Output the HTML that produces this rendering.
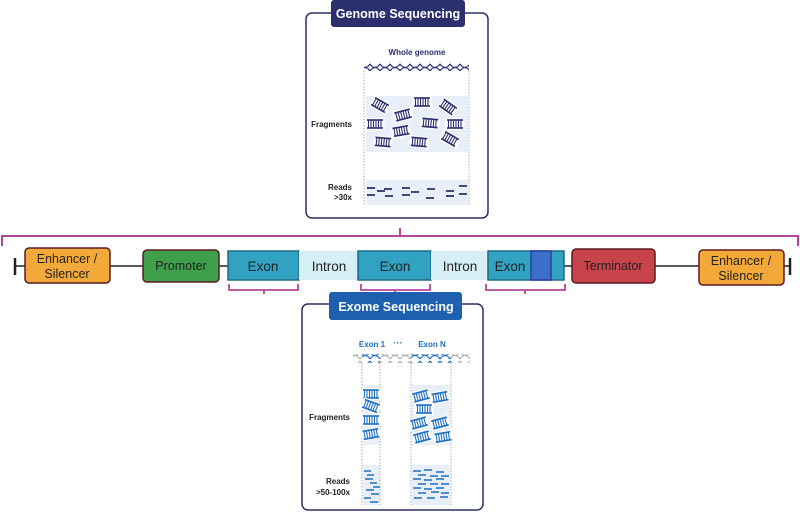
<!DOCTYPE html>
<html><head><meta charset="utf-8"><style>
html,body{margin:0;padding:0;background:#fff;}
svg{display:block;font-family:"Liberation Sans",sans-serif;}
</style></head><body>
<svg width="800" height="513" viewBox="0 0 800 513" xmlns="http://www.w3.org/2000/svg">
<defs>
<g id="ld">
<rect x="-8" y="-4.5" width="16" height="9" fill="#fff" stroke="#fff" stroke-width="3"/>
<line x1="-8" y1="-4" x2="8" y2="-4" stroke="currentColor" stroke-width="1.6"/>
<line x1="-8" y1="4" x2="8" y2="4" stroke="currentColor" stroke-width="1.6"/>
<path d="M-6.5-4v8M-4-4v8M-1.5-4v8M1-4v8M3.5-4v8M6-4v8" stroke="currentColor" stroke-width="1.1"/>
</g>
<pattern id="hxN" width="10" height="9" patternUnits="userSpaceOnUse">
<path d="M0 1 Q5 8 10 1 M0 8 Q5 1 10 8" fill="none" stroke="#2b2f6e" stroke-width="1.2"/>
<path d="M2.5 3v3M7.5 3v3" stroke="#7a7fb0" stroke-width="0.7"/>
</pattern>
<pattern id="hxB" width="10" height="9" patternUnits="userSpaceOnUse">
<path d="M0 1 Q5 8 10 1 M0 8 Q5 1 10 8" fill="none" stroke="#1e6fc0" stroke-width="1.2"/>
<path d="M2.5 3v3M7.5 3v3" stroke="#7fb0e0" stroke-width="0.7"/>
</pattern>
<pattern id="hxG" width="10" height="9" patternUnits="userSpaceOnUse">
<path d="M0 1 Q5 8 10 1 M0 8 Q5 1 10 8" fill="none" stroke="#aaa" stroke-width="1.1"/>
<path d="M2.5 3v3M7.5 3v3" stroke="#ccc" stroke-width="0.7"/>
</pattern>
</defs>

<!-- Genome box -->
<rect x="306" y="13" width="182" height="205" rx="6" fill="#fff" stroke="#2b3060" stroke-width="1.5"/>
<rect x="331" y="0" width="134" height="27" rx="3" fill="#2b2f6e"/>
<text x="398" y="18" text-anchor="middle" font-size="12.5" font-weight="bold" fill="#fff">Genome Sequencing</text>
<text x="417" y="55" text-anchor="middle" font-size="8" font-weight="bold" fill="#2b2f6e">Whole genome</text>
<rect x="364" y="62" width="105" height="9" fill="url(#hxN)"/>
<rect x="366" y="96" width="102" height="56" fill="#e8eff8"/>
<rect x="366" y="180" width="102" height="25" fill="#e8eff8"/>
<line x1="364" y1="71" x2="364" y2="205" stroke="#aaa" stroke-dasharray="1.5,1.5"/>
<line x1="469" y1="71" x2="469" y2="205" stroke="#aaa" stroke-dasharray="1.5,1.5"/>
<g color="#2b2f6e">
<use href="#ld" transform="translate(380,105) rotate(30)"/>
<use href="#ld" transform="translate(422,102)"/>
<use href="#ld" transform="translate(448,107) rotate(35)"/>
<use href="#ld" transform="translate(375,124)"/>
<use href="#ld" transform="translate(403,115) rotate(-15)"/>
<use href="#ld" transform="translate(430,123) rotate(5)"/>
<use href="#ld" transform="translate(455,124)"/>
<use href="#ld" transform="translate(401,131) rotate(-10)"/>
<use href="#ld" transform="translate(383,142) rotate(5)"/>
<use href="#ld" transform="translate(419,142) rotate(5)"/>
<use href="#ld" transform="translate(450,139) rotate(30)"/>
</g>
<text x="352" y="127" text-anchor="end" font-size="8" font-weight="bold" fill="#222">Fragments</text>
<text x="352" y="190" text-anchor="end" font-size="8" font-weight="bold" fill="#222">Reads</text>
<text x="352" y="200" text-anchor="end" font-size="8" font-weight="bold" fill="#222">&gt;30x</text>
<path d="M367 188h8M377 191h8M384 189h8M402 188h8M411 192h8M427 189h8M446 191h8M459 186h8M367 195h8M385 196h8M402 195h8M426 198h8M446 196h8M459 194h8" stroke="#2b2f6e" stroke-width="1.8"/>

<!-- top bracket -->
<path d="M2 246 V236 H798 V246 M400 236 V228" fill="none" stroke="#b0479c" stroke-width="2"/>

<!-- gene row -->
<line x1="15" y1="266" x2="790" y2="266" stroke="#222" stroke-width="1.6"/>
<line x1="15" y1="258" x2="15" y2="275" stroke="#222" stroke-width="2.5"/>
<line x1="790" y1="258" x2="790" y2="275" stroke="#222" stroke-width="2.5"/>
<rect x="25" y="248" width="85" height="35" rx="4" fill="#f2a93a" stroke="#5a1a20" stroke-width="1.5"/>
<text x="67" y="263" text-anchor="middle" font-size="12.5" fill="#222">Enhancer /</text>
<text x="67" y="278" text-anchor="middle" font-size="12.5" fill="#222">Silencer</text>
<rect x="143" y="250" width="76" height="32" rx="4" fill="#3ea04a" stroke="#5a1a20" stroke-width="1.5"/>
<text x="181" y="270" text-anchor="middle" font-size="12.5" fill="#222">Promoter</text>
<rect x="228" y="251" width="71" height="29" fill="#31a2c2" stroke="#1c6a80" stroke-width="1.5"/>
<text x="263" y="271" text-anchor="middle" font-size="13.5" fill="#222">Exon</text>
<rect x="299" y="251" width="59" height="29" fill="#d6eff5"/>
<text x="329" y="271" text-anchor="middle" font-size="13.5" fill="#222">Intron</text>
<rect x="358" y="251" width="73" height="29" fill="#31a2c2" stroke="#1c6a80" stroke-width="1.5"/>
<text x="395" y="271" text-anchor="middle" font-size="13.5" fill="#222">Exon</text>
<rect x="431" y="251" width="57" height="29" fill="#d6eff5"/>
<text x="460" y="271" text-anchor="middle" font-size="13.5" fill="#222">Intron</text>
<rect x="488" y="251" width="76" height="29" fill="#31a2c2" stroke="#1c6a80" stroke-width="1.5"/>
<rect x="531" y="251" width="20" height="29" fill="#3b6fc9" stroke="#2a3fa0" stroke-width="1.5"/>
<text x="510" y="271" text-anchor="middle" font-size="13.5" fill="#222">Exon</text>
<rect x="572" y="249" width="83" height="34" rx="4" fill="#c9434b" stroke="#5a1a20" stroke-width="1.5"/>
<text x="613" y="270" text-anchor="middle" font-size="12.5" fill="#222">Terminator</text>
<rect x="699" y="250" width="85" height="35" rx="4" fill="#f2a93a" stroke="#5a1a20" stroke-width="1.5"/>
<text x="741" y="265" text-anchor="middle" font-size="12.5" fill="#222">Enhancer /</text>
<text x="741" y="280" text-anchor="middle" font-size="12.5" fill="#222">Silencer</text>

<!-- lower brackets -->
<path d="M229 284 V290 H298 V284 M264 290 V294" fill="none" stroke="#b0479c" stroke-width="1.8"/>
<path d="M361 284 V290 H430 V284 M395 290 V294" fill="none" stroke="#b0479c" stroke-width="1.8"/>
<path d="M486 284 V290 H565 V284 M525 290 V294" fill="none" stroke="#b0479c" stroke-width="1.8"/>

<!-- Exome box -->
<rect x="302" y="304" width="181" height="206" rx="6" fill="#fff" stroke="#2b3060" stroke-width="1.5"/>
<rect x="329" y="292" width="133" height="28" rx="3" fill="#1e60af"/>
<text x="396" y="311" text-anchor="middle" font-size="12.5" font-weight="bold" fill="#fff">Exome Sequencing</text>
<text x="372" y="347" text-anchor="middle" font-size="8" font-weight="bold" fill="#1e6fc0">Exon 1</text>
<text x="398" y="346" text-anchor="middle" font-size="9" font-weight="bold" fill="#1e6fc0">···</text>
<text x="432" y="347" text-anchor="middle" font-size="8" font-weight="bold" fill="#1e6fc0">Exon N</text>
<rect x="353" y="354" width="117" height="9" fill="url(#hxG)"/>
<rect x="362" y="354" width="18" height="9" fill="#fff"/>
<rect x="362" y="354" width="18" height="9" fill="url(#hxB)"/>
<rect x="411" y="354" width="40" height="9" fill="#fff"/>
<rect x="411" y="354" width="40" height="9" fill="url(#hxB)"/>
<rect x="363" y="385" width="17" height="60" fill="#e8eff8"/>
<rect x="412" y="385" width="38" height="60" fill="#e8eff8"/>
<rect x="363" y="465" width="17" height="40" fill="#e8eff8"/>
<rect x="412" y="465" width="38" height="40" fill="#e8eff8"/>
<path d="M362 363V505M380 363V505M411 363V505M451 363V505" stroke="#aaa" stroke-dasharray="1.5,1.5"/>
<g color="#1e6fc0">
<use href="#ld" transform="translate(371,394)"/>
<use href="#ld" transform="translate(371,406) rotate(20)"/>
<use href="#ld" transform="translate(371,420)"/>
<use href="#ld" transform="translate(371,434) rotate(-10)"/>
<use href="#ld" transform="translate(421,396) rotate(-15)"/>
<use href="#ld" transform="translate(440,397) rotate(-10)"/>
<use href="#ld" transform="translate(424,409)"/>
<use href="#ld" transform="translate(419,423) rotate(-15)"/>
<use href="#ld" transform="translate(440,423) rotate(-15)"/>
<use href="#ld" transform="translate(422,437) rotate(-15)"/>
<use href="#ld" transform="translate(443,437) rotate(-10)"/>
</g>
<text x="350" y="420" text-anchor="end" font-size="8" font-weight="bold" fill="#222">Fragments</text>
<text x="350" y="484" text-anchor="end" font-size="8" font-weight="bold" fill="#222">Reads</text>
<text x="350" y="495" text-anchor="end" font-size="8" font-weight="bold" fill="#222">&gt;50-100x</text>
<path d="M364 471h7M367 475h7M365 479h8M370 483h7M373 487h7M366 490h8M371 494h8M364 498h7M370 502h8" stroke="#1e6fc0" stroke-width="1.6"/>
<path d="M413 471h8M424 470h8M436 472h8M418 475h8M430 476h8M441 476h8M413 479h8M424 480h8M436 479h8M418 484h8M430 484h8M441 484h8M413 488h8M424 489h8M436 488h8M418 493h8M431 492h8M441 493h8M414 498h8M427 498h8M440 497h8" stroke="#1e6fc0" stroke-width="1.6"/>
</svg>
</body></html>
